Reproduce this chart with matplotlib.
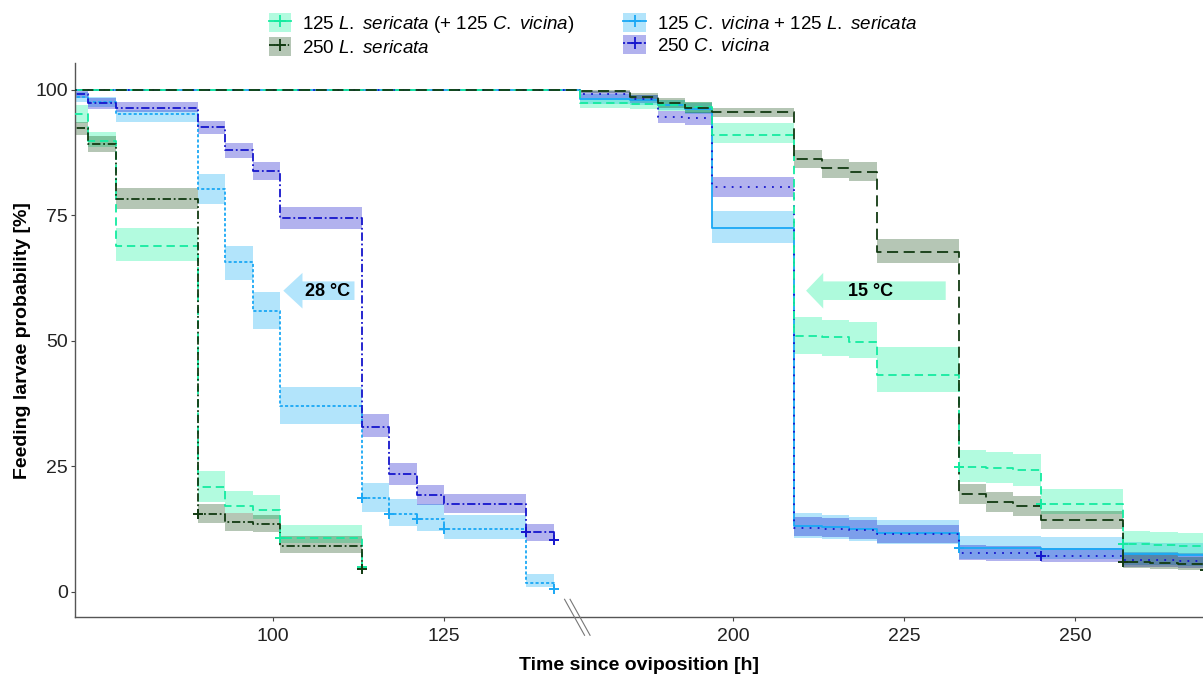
"""
Feeding larvae probability (Kaplan-Meier with 95 % bands) at 28 °C and 15 °C,
single x axis with the 145-177 h gap cut out.
"""
import matplotlib
matplotlib.use("Agg")
import matplotlib.pyplot as plt
from matplotlib.lines import Line2D
from matplotlib.patches import Patch
import numpy as np

# ── Style ─────────────────────────────────────────────────────────────────────
plt.rcParams.update({
    "font.family":        "Liberation Sans",
    "mathtext.fontset":   "custom",
    "mathtext.rm":        "Liberation Sans",
    "mathtext.it":        "Liberation Sans:italic",
    "mathtext.bf":        "Liberation Sans:bold",
    "lines.scale_dashes": False,
    "axes.spines.top":    False,
    "axes.spines.right":  False,
})

# ── Data ──────────────────────────────────────────────────────────────────────
# step times [h]; values hold from that time until the next one
T28 = [69, 73, 77, 89, 93, 97, 101, 113, 117, 121, 125, 137, 141]
T15 = [60, 177.7, 185, 189, 193, 197, 209, 213, 217, 221, 233, 237, 241,
       245, 257, 261, 265, 269, 273]

# 125 L. sericata (+ 125 C. vicina)
LS125_28    = [95.1, 89.8, 68.9, 20.9, 17.1, 16.2, 10.6, 5.0]
LS125_28_LO = [93.3, 88.6, 65.8, 17.9, 15.6, 14.5, 9.6, 5.0]
LS125_28_HI = [96.9, 91.6, 72.4, 24.1, 20.1, 19.3, 13.3, 5.0]
LS125_15    = [100, 97.4, 97.1, 96.9, 96.5, 90.9, 50.9, 50.7, 49.8, 43.2,
               24.9, 24.7, 24.2, 17.4, 9.5, 9.3, 9.2, 9.2, 9.2]
LS125_15_LO = [100, 96.4, 96.2, 95.8, 95.4, 89.4, 47.3, 47.0, 46.5, 39.7,
               21.9, 21.6, 21.0, 15.5, 7.6, 7.4, 7.3, 7.3, 7.3]
LS125_15_HI = [100, 98.4, 98.1, 97.9, 97.6, 93.4, 54.7, 54.2, 53.7, 48.8,
               28.2, 27.9, 27.4, 20.4, 12.0, 11.8, 11.6, 11.6, 11.6]

# 250 L. sericata
LS250_28    = [92.4, 89.2, 78.3, 15.4, 13.8, 13.5, 9.1, 4.5]
LS250_28_LO = [90.9, 87.6, 76.2, 13.7, 12.1, 11.9, 7.8, 4.5]
LS250_28_HI = [93.6, 90.7, 80.5, 17.4, 15.6, 15.2, 11.0, 4.5]
LS250_15    = [100, 99.8, 98.5, 97.3, 96.4, 95.5, 86.2, 84.3, 83.5, 67.7,
               19.5, 17.8, 17.1, 14.2, 6.0, 5.8, 5.6, 4.4, 4.4]
LS250_15_LO = [100, 99.3, 97.8, 96.4, 95.4, 94.5, 84.4, 82.4, 81.7, 65.4,
               17.5, 15.8, 15.1, 12.4, 4.7, 4.5, 4.3, 3.3, 3.3]
LS250_15_HI = [100, 100, 99.3, 98.4, 97.5, 96.4, 88.0, 86.2, 85.5, 70.2,
               21.5, 19.8, 19.1, 16.1, 7.6, 7.3, 7.0, 5.5, 5.5]

# 125 C. vicina + 125 L. sericata
CV125_28    = [98.6, 97.6, 95.1, 80.2, 65.6, 55.9, 36.9, 18.6, 15.4, 14.4,
               12.5, 1.7, 0.5]
CV125_28_LO = [97.5, 96.5, 93.6, 77.2, 62.0, 52.3, 33.4, 15.8, 13.1, 12.1,
               10.4, 0.9, 0.5]
CV125_28_HI = [99.6, 98.6, 96.0, 83.1, 68.9, 59.6, 40.7, 21.6, 18.4, 17.4,
               15.3, 3.5, 0.5]
CV125_15    = [100, 98.2, 97.9, 97.0, 96.2, 72.5, 13.1, 12.8, 12.4, 11.6,
               8.7, 8.7, 8.7, 8.6, 7.6, 7.5, 7.4, 7.4, 7.4]
CV125_15_LO = [100, 97.2, 96.9, 96.0, 95.2, 69.4, 10.6, 10.4, 10.0, 9.4,
               6.6, 6.6, 6.6, 6.5, 5.4, 5.3, 5.2, 5.2, 5.2]
CV125_15_HI = [100, 99.2, 98.9, 98.0, 97.3, 75.8, 15.6, 15.3, 14.9, 14.3,
               11.0, 11.0, 11.0, 10.8, 9.8, 9.7, 9.6, 9.6, 9.6]

# 250 C. vicina
CV250_28    = [99.1, 97.3, 96.4, 92.5, 87.9, 83.7, 74.4, 32.9, 23.4, 19.3,
               17.5, 11.8, 10.2]
CV250_28_LO = [98.3, 96.2, 95.6, 91.2, 86.3, 82.0, 72.2, 30.8, 21.3, 17.3,
               15.7, 10.1, 10.2]
CV250_28_HI = [99.9, 98.3, 97.5, 93.8, 89.4, 85.5, 76.7, 35.4, 25.6, 21.3,
               19.5, 13.4, 10.2]
CV250_15    = [100, 99.1, 98.1, 94.6, 94.3, 80.7, 12.7, 12.5, 12.2, 11.4,
               7.8, 7.7, 7.7, 7.2, 6.4, 6.3, 6.2, 6.2, 6.2]
CV250_15_LO = [100, 98.3, 97.3, 93.3, 93.0, 78.7, 11.0, 10.8, 10.5, 9.6,
               6.3, 6.2, 6.2, 5.9, 5.0, 4.9, 4.8, 4.8, 4.8]
CV250_15_HI = [100, 99.8, 99.0, 95.8, 95.6, 82.5, 14.9, 14.6, 14.3, 13.3,
               9.3, 9.2, 9.2, 8.7, 8.0, 7.9, 7.8, 7.8, 7.8]

# censoring times (+ marks)
CENS_LS125_28 = [101, 113]
CENS_LS250_28 = [89, 113]
CENS_CV125_28 = [113, 117, 121, 125, 141]
CENS_CV250_28 = [137, 141]
CENS_LS125_15 = [233, 245, 257]
CENS_LS250_15 = [257, 269]
CENS_CV125_15 = [233]
CENS_CV250_15 = [245]

LABELS = [
    r"125 $\mathit{L.\ sericata}$ (+ 125 $\mathit{C.\ vicina}$)",
    r"250 $\mathit{L.\ sericata}$",
    r"125 $\mathit{C.\ vicina}$ + 125 $\mathit{L.\ sericata}$",
    r"250 $\mathit{C.\ vicina}$",
]
X_TICKS = [100, 125, 200, 225, 250]
Y_TICKS = [0, 25, 50, 75, 100]

# ── Colours / line types ──────────────────────────────────────────────────────
LINE_C = ["#14EBA0", "#123A12", "#1AA8F5", "#1515CC"]
FILL_C = ["#00F595", "#0A450A", "#00A8F5", "#0000C8"]
LS_28 = [(0, (6, 3.5)), (0, (6, 2, 1.3, 2)), (0, (2.2, 1.6)), (0, (6, 2, 1.3, 2))]
LS_15 = [(0, (6, 3.5)), (0, (8, 4)), "-", (0, (1.3, 4.5))]
LS_KEY = ["-", (0, (4, 1.5, 1, 1.5)), "-", (0, (1.5, 1.5))]

# drawing order: solid/dotted 15 °C lines under the dashed dark ones
series = [
    (T28[:8], LS125_28, LS125_28_LO, LS125_28_HI, CENS_LS125_28, 0, LS_28),
    (T28[:8], LS250_28, LS250_28_LO, LS250_28_HI, CENS_LS250_28, 1, LS_28),
    (T28, CV125_28, CV125_28_LO, CV125_28_HI, CENS_CV125_28, 2, LS_28),
    (T28, CV250_28, CV250_28_LO, CV250_28_HI, CENS_CV250_28, 3, LS_28),
    (T15, CV125_15, CV125_15_LO, CV125_15_HI, CENS_CV125_15, 2, LS_15),
    (T15, CV250_15, CV250_15_LO, CV250_15_HI, CENS_CV250_15, 3, LS_15),
    (T15, LS125_15, LS125_15_LO, LS125_15_HI, CENS_LS125_15, 0, LS_15),
    (T15, LS250_15, LS250_15_LO, LS250_15_HI, CENS_LS250_15, 1, LS_15),
]

# ── Broken time axis: cut the 144.5 -> 177.3 h gap ───────────────────────────
BREAK_T = 144.5
GAP = 32.8


def fwd(t):
    t = np.asarray(t, dtype=float)
    return t - np.clip(t - BREAK_T, 0, GAP)


def inv(x):
    x = np.asarray(x, dtype=float)
    return np.where(x > BREAK_T, x + GAP, x)


# ── Figure ────────────────────────────────────────────────────────────────────
fig = plt.figure(figsize=(12.03, 6.78), dpi=100)
ax = fig.add_axes([74.6 / 1203, 1 - 617.3 / 678, 1 - 74.6 / 1203,
                   (617.3 - 63) / 678])
ax.set_xscale("function", functions=(fwd, inv))

# bands first
for t, s, lo, hi, cens, k, lss in series:
    ax.fill_between(t, lo, hi, step="post", color=FILL_C[k], alpha=0.3,
                    lw=0, zorder=1)

# step lines + censor marks
for t, s, lo, hi, cens, k, lss in series:
    ax.step(t, s, where="post", color=LINE_C[k], lw=1.3, linestyle=lss[k],
            zorder=3)
    idx = np.searchsorted(t, cens, side="right") - 1
    ax.plot(cens, np.asarray(s)[idx], ls="none", marker="+", ms=7, mew=1.4,
            color=LINE_C[k], zorder=4)

# temperature arrows
ax.arrow(111.9, 59.95, 101.5 - 111.9, 0, width=3.7, head_width=7.1,
         head_length=2.8, length_includes_head=True, color="#B3E5FC",
         lw=0, zorder=2)
ax.text(107.9, 59.7, "28 °C", ha="center", va="center", fontsize=13,
        fontweight="bold", zorder=5)
ax.arrow(231.1, 59.95, 210.7 - 231.1, 0, width=3.7, head_width=7.1,
         head_length=2.5, length_includes_head=True, color="#AEFADC",
         lw=0, zorder=2)
ax.text(220.1, 59.8, "15 °C", ha="center", va="center", fontsize=13,
        fontweight="bold", zorder=5)

# axes
ax.set_xlim(71.0, 268.7)
ax.set_ylim(-5.1, 105.3)
ax.set_xticks(X_TICKS)
ax.set_xticklabels([str(v) for v in X_TICKS])
ax.set_yticks(Y_TICKS)
ax.set_yticklabels([str(v) for v in Y_TICKS])
ax.minorticks_off()
ax.tick_params(direction="out", length=3, width=0.8, color="#444444",
               labelsize=14, labelcolor="#222222", pad=2)
ax.tick_params(axis="x", pad=5)
for sp in ("left", "bottom"):
    ax.spines[sp].set_color("#555555")
    ax.spines[sp].set_linewidth(1.0)
ax.set_xlabel("Time since oviposition [h]", fontsize=14, fontweight="bold",
              labelpad=8)
ax.set_ylabel("Feeding larvae probability [%]", fontsize=14,
              fontweight="bold", labelpad=3)

# break marks "\\" on the x axis
bx, by = ax.transData.transform((BREAK_T, -5.1))
to_fig = fig.transFigure.inverted()
for off in (-3.0, 2.5):
    p0 = to_fig.transform((bx + off - 10, by + 18))
    p1 = to_fig.transform((bx + off + 10, by - 18))
    fig.add_artist(Line2D([p0[0], p1[0]], [p0[1], p1[1]], color="#777777",
                          lw=0.8))

# legend
handles = []
for k in range(4):
    patch = Patch(facecolor=FILL_C[k], alpha=0.3, edgecolor="none")
    line = Line2D([], [], color=LINE_C[k], lw=1.3, linestyle=LS_KEY[k],
                  marker="+", ms=8, mew=1.3)
    handles.append((patch, line))
fig.legend(handles, LABELS, loc="upper center", bbox_to_anchor=(0.493, 0.981),
           ncol=2, frameon=False, fontsize=13.5, handlelength=1.2,
           handleheight=1.2, handletextpad=0.6, columnspacing=2.6,
           labelspacing=0.12, borderaxespad=0, borderpad=0)

fig.savefig("out.png", dpi=100)
